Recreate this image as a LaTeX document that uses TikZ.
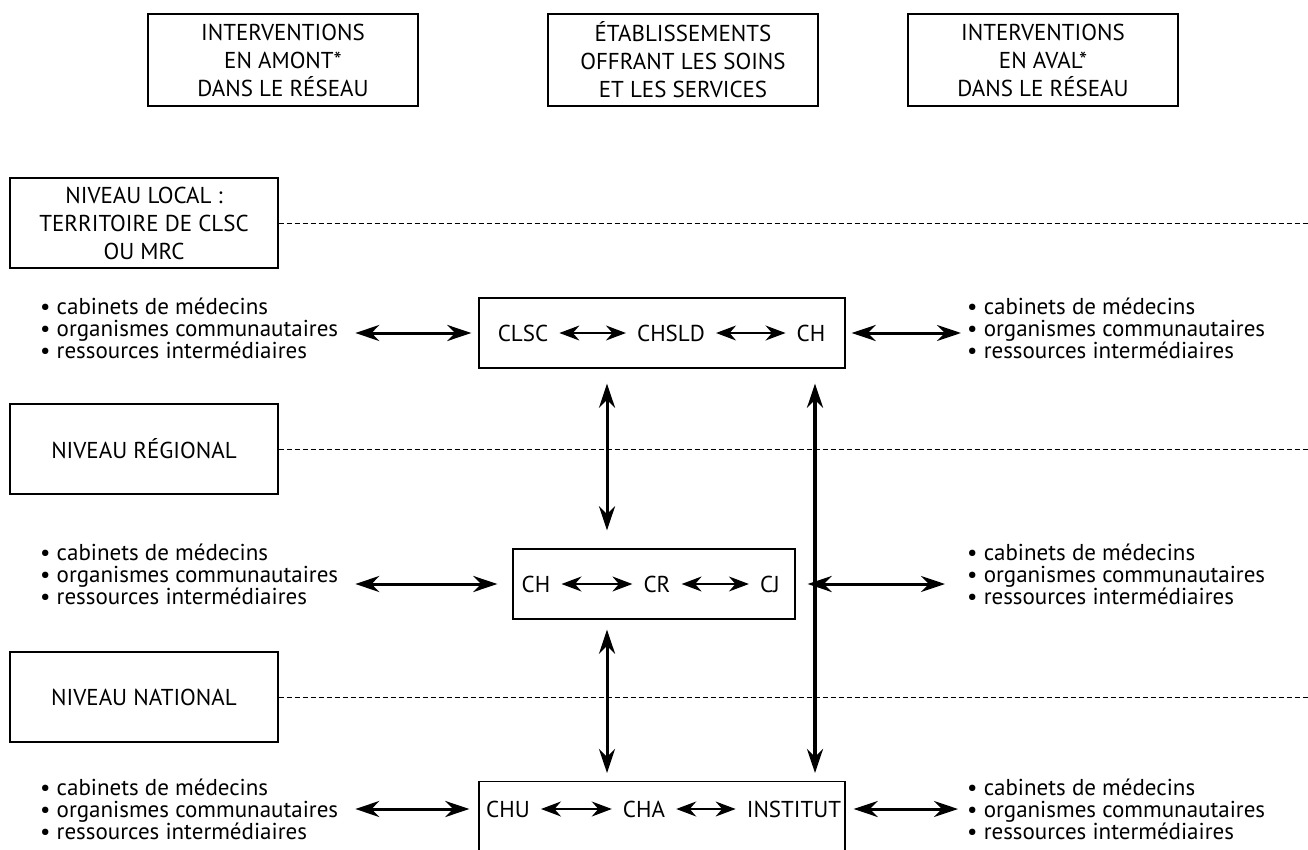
\documentclass[tikz,border=0pt]{standalone}
\usepackage{fontspec}
\setmainfont{PT Sans}
\usetikzlibrary{arrows.meta,positioning}
\begin{document}
\begin{tikzpicture}[x=1pt,y=-1pt,font=\fontsize{23}{28}\selectfont,
 hdr/.style={draw,line width=1.3pt,align=center,minimum width=270pt,minimum height=92pt,inner sep=0pt},
 lvl/.style={draw,line width=1.3pt,align=center,minimum width=268pt,minimum height=90pt,inner sep=0pt},
 lst/.style={align=left,anchor=west,inner sep=0pt,font=\fontsize{23}{22}\selectfont},
 grp/.style={draw,line width=1.3pt,minimum height=70pt,inner sep=0pt},
 itm/.style={inner xsep=11pt,inner ysep=3pt},
 dbl/.style={line width=3pt,{Stealth[length=24pt,width=16pt]}-{Stealth[length=24pt,width=16pt]}},
 sgl/.style={line width=1.4pt,{Stealth[length=20pt,width=15pt]}-{Stealth[length=20pt,width=15pt]}},
 sep/.style={line width=0.9pt,dash pattern=on 5pt off 3pt}]
 \useasboundingbox (0,0) rectangle (1308,850);
 \coordinate (edge) at (1308,0);
 \coordinate (v1) at (607,0);
 \coordinate (v2) at (815,0);
 % column headers
 \node[hdr] (amont) at (283,60) {INTERVENTIONS\\EN AMONT*\\DANS LE RÉSEAU};
 \node[hdr] (etab) at (683,60) {ÉTABLISSEMENTS\\OFFRANT LES SOINS\\ET LES SERVICES};
 \node[hdr] (aval) at (1043,60) {INTERVENTIONS\\EN AVAL*\\DANS LE RÉSEAU};
 % levels
 \node[lvl] (local) at (144,223) {NIVEAU LOCAL :\\TERRITOIRE DE CLSC\\OU MRC};
 \node[lvl] (reg) at (144,449) {NIVEAU RÉGIONAL};
 \node[lvl] (nat) at (144,697) {NIVEAU NATIONAL};
 \draw[sep] (local.east) -- (local -| edge);
 \draw[sep] (reg.east) -- (reg -| edge);
 \draw[sep] (nat.east) -- (nat -| edge);
 % local
 \node[grp,minimum width=366pt] (g1) at (662,333) {};
 \node[itm] (clsc) at (523,333) {CLSC};
 \node[itm] (chsld) at (671,333) {CHSLD};
 \node[itm] (ch1) at (811,333) {CH};
 \draw[sgl] (clsc) -- (chsld);
 \draw[sgl] (chsld) -- (ch1);
 \node[lst] (am1) at (40,328) {• cabinets de médecins\\• organismes communautaires\\• ressources intermédiaires};
 \node[lst] (av1) at (967,328) {• cabinets de médecins\\• organismes communautaires\\• ressources intermédiaires};
 \draw[dbl,shorten <=17pt,shorten >=7pt] (am1.east |- g1) -- (g1.west);
 \draw[dbl,shorten <=6pt,shorten >=6pt] (g1.east) -- (av1.west |- g1);
 % regional
 \node[grp,minimum width=282pt] (g2) at (654,584) {};
 \node[itm] (ch2) at (536,584) {CH};
 \node[itm] (cr) at (657,584) {CR};
 \node[itm] (cj) at (770,584) {CJ};
 \draw[sgl] (ch2) -- (cr);
 \draw[sgl] (cr) -- (cj);
 \node[lst] (am2) at (40,574) {• cabinets de médecins\\• organismes communautaires\\• ressources intermédiaires};
 \node[lst] (av2) at (967,574) {• cabinets de médecins\\• organismes communautaires\\• ressources intermédiaires};
 \draw[dbl,shorten <=17pt,shorten >=15pt] (am2.east |- g2) -- (g2.west);
 \draw[dbl,shorten <=12pt,shorten >=22pt] (g2.east) -- (av2.west |- g2);
 % national
 \node[grp,minimum width=366pt,minimum height=90pt,anchor=north] (g3) at (662,781) {};
 \node[itm] (chu) at (508,809) {CHU};
 \node[itm] (cha) at (644,809) {CHA};
 \node[itm] (inst) at (794,809) {INSTITUT};
 \draw[sgl] (chu) -- (cha);
 \draw[sgl] (cha) -- (inst);
 \node[lst] (am3) at (40,809) {• cabinets de médecins\\• organismes communautaires\\• ressources intermédiaires};
 \node[lst] (av3) at (967,809) {• cabinets de médecins\\• organismes communautaires\\• ressources intermédiaires};
 \draw[dbl,shorten <=17pt,shorten >=9pt] (am3.east |- chu) -- (chu -| g3.west);
 \draw[dbl,shorten <=8pt,shorten >=9pt] (inst -| g3.east) -- (av3.west |- inst);
 % links between levels
 \draw[dbl,shorten <=15pt,shorten >=18pt] (g1.south -| v1) -- (g2.north -| v1);
 \draw[dbl,shorten <=10pt,shorten >=8pt] (g2.south -| v1) -- (g3.north -| v1);
 \draw[dbl,line width=3.5pt,shorten <=15pt,shorten >=8pt] (g1.south -| v2) -- (g3.north -| v2);
\end{tikzpicture}
\end{document}
